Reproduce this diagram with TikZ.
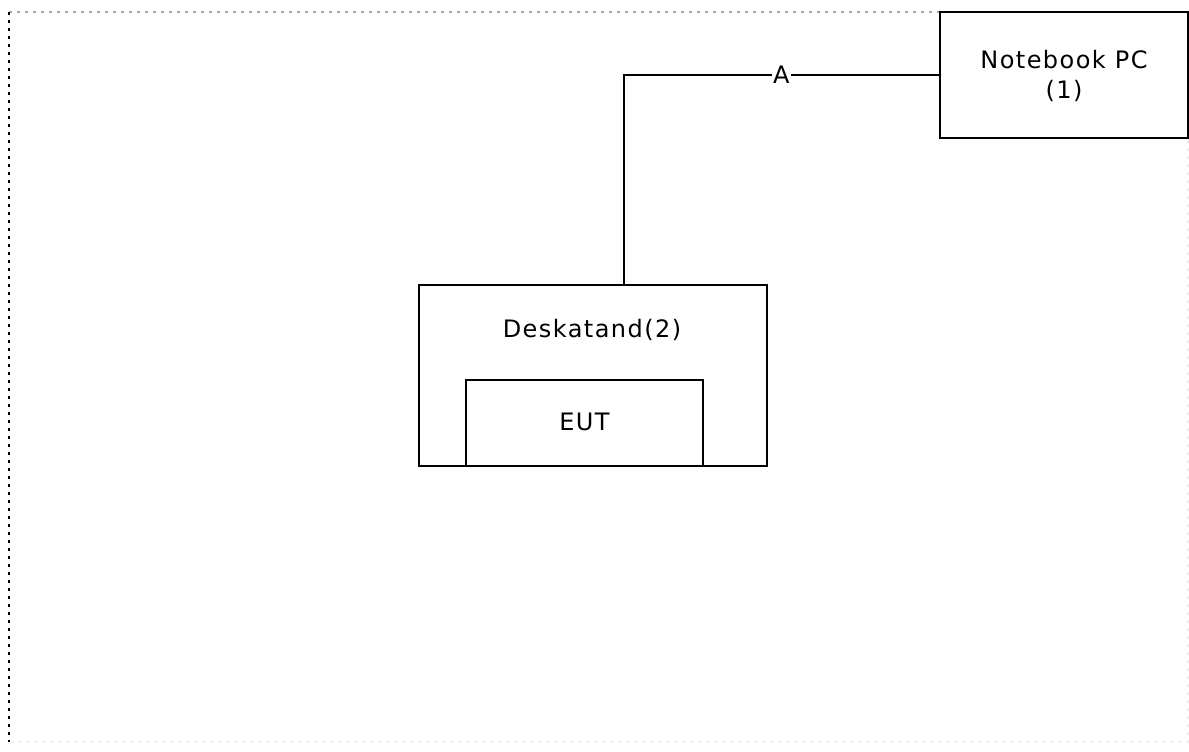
\documentclass[tikz,border=0pt]{standalone}
\usepackage{fontspec}
\setmainfont[LetterSpace=6]{DejaVu Sans}
\usetikzlibrary{positioning}

\begin{document}
\begin{tikzpicture}[x=0.75pt,y=-0.75pt,
  box/.style={draw,line width=2.2pt,inner sep=0pt},
  frame/.style={line width=2.2pt,dash pattern=on 2.2pt off 3.8pt},
  lbl/.style={font=\fontsize{18}{23}\selectfont,align=center}]
\useasboundingbox (0,0) rectangle (1189,751);
% frame
\draw[frame,gray!15] (1188,12) -- (1188,742) -- (9,742);
\draw[frame,gray!70] (9,12) -- (940,12);
\draw[frame] (9,12) -- (9,742);
% equipment
\node[box,minimum width=186pt,minimum height=94.5pt] (nb) at (1064,75) {};
\node[lbl] (nblabel) at (1064,76) {Notebook PC\\(1)};
\node[box,minimum width=261pt,minimum height=135.75pt] (ds) at (593,375.5) {};
\node[lbl] (dslabel) at (592,330) {Deskatand(2)};
\node[box,minimum width=177.75pt,minimum height=64.5pt] (eut) at (584.5,423) {};
\node[lbl] (eutlabel) at (584.5,422) {EUT};
% cable
\coordinate (bend) at (624,75);
\draw[line width=2.2pt] (nb.west) -- node[lbl,fill=white,inner sep=1pt] (cabA) {A} (bend) -- (bend |- ds.north);
\end{tikzpicture}
\end{document}
